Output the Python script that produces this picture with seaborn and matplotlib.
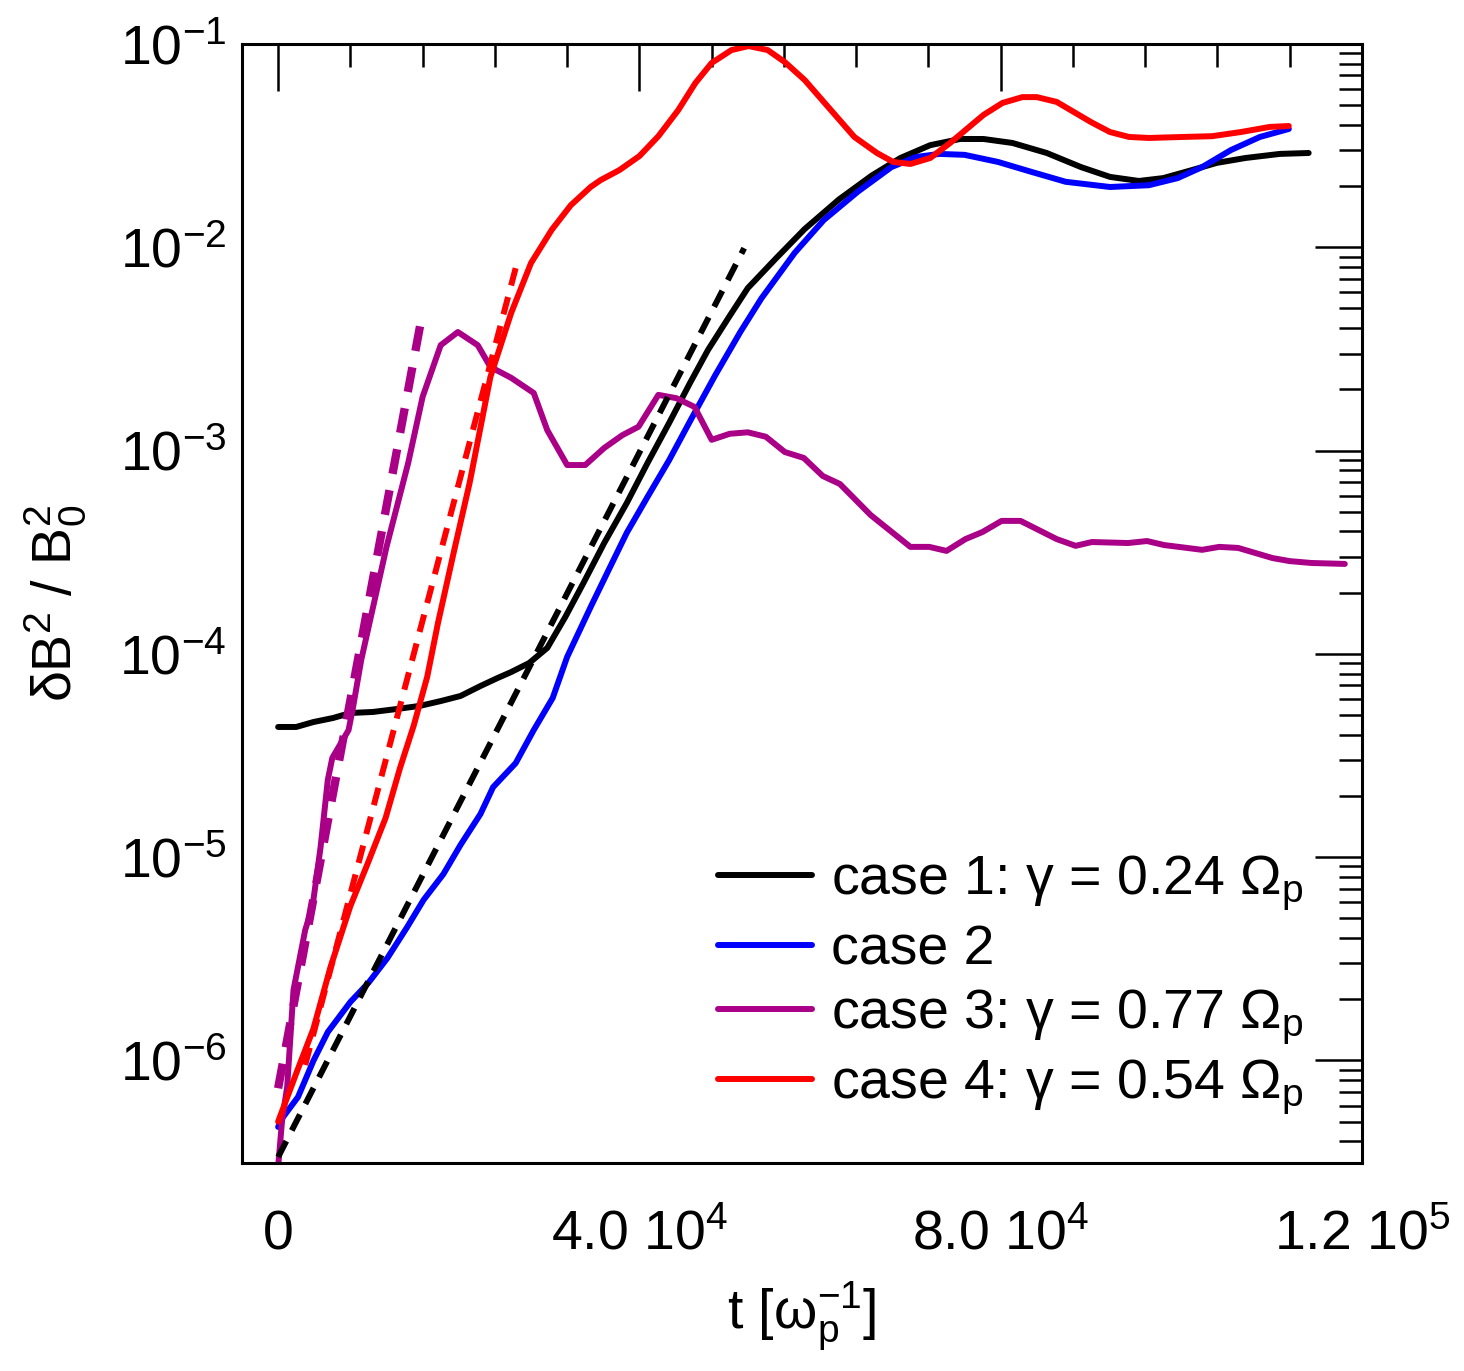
import numpy as np
import pandas as pd
import seaborn as sns
import matplotlib
matplotlib.use("Agg")
import matplotlib.pyplot as plt
from matplotlib.ticker import FixedLocator, MultipleLocator, LogLocator, NullFormatter

# case 1 (black)
t1 = [0, 2000, 3900, 6100, 8000, 10500, 13200, 15700, 18000, 20200, 22400, 24300,
      25800, 27800, 29800, 31800, 33800, 36100, 38600, 40900, 43300, 45600, 47600,
      50000, 52000, 55100, 58300, 62100, 65700, 68900, 72200, 75500, 78100, 81300,
      85100, 88900, 92100, 95300, 98000, 101200, 103900, 107100, 110900, 114100]
b1 = [4.37e-5, 4.37e-5, 4.62e-5, 4.84e-5, 5.12e-5, 5.18e-5, 5.36e-5, 5.55e-5, 5.86e-5,
      6.21e-5, 6.95e-5, 7.61e-5, 8.14e-5, 9.02e-5, 1.07e-4, 1.52e-4, 2.23e-4, 3.51e-4,
      5.52e-4, 8.69e-4, 1.37e-3, 2.15e-3, 3.13e-3, 4.6e-3, 6.3e-3, 8.8e-3, 1.23e-2,
      1.72e-2, 2.25e-2, 2.75e-2, 3.18e-2, 3.41e-2, 3.41e-2, 3.26e-2, 2.91e-2, 2.48e-2,
      2.22e-2, 2.12e-2, 2.19e-2, 2.40e-2, 2.60e-2, 2.75e-2, 2.88e-2, 2.91e-2]

# case 2 (blue)
t2 = [0, 550, 2200, 3900, 5500, 8000, 10000, 12100, 14300, 16100, 18300, 20200, 22400,
      23800, 26300, 28300, 30400, 32000, 34600, 36600, 38600, 40900, 43300, 45700,
      48400, 51200, 53500, 57200, 60400, 64200, 67900, 70600, 73200, 76000, 79700,
      83400, 87200, 92100, 96400, 99600, 102300, 105500, 108700, 111900]
b2 = [4.71e-7, 5.27e-7, 6.61e-7, 9.95e-7, 1.38e-6, 1.94e-6, 2.41e-6, 3.19e-6, 4.54e-6,
      6.16e-6, 8.26e-6, 1.15e-5, 1.63e-5, 2.21e-5, 2.90e-5, 4.22e-5, 6.07e-5, 9.66e-5,
      1.70e-4, 2.59e-4, 3.94e-4, 5.92e-4, 8.99e-4, 1.42e-3, 2.35e-3, 3.85e-3, 5.6e-3,
      9.4e-3, 1.36e-2, 1.88e-2, 2.48e-2, 2.78e-2, 2.88e-2, 2.85e-2, 2.63e-2, 2.35e-2,
      2.10e-2, 1.98e-2, 2.02e-2, 2.19e-2, 2.48e-2, 3.01e-2, 3.49e-2, 3.82e-2]

# case 3 (purple)
t3 = [0, 440, 1000, 1700, 3000, 3800, 4700, 5500, 6000, 7800, 8300, 9200, 12000, 14400,
      16000, 18000, 19900, 22100, 23500, 25800, 28300, 29800, 32000, 34000, 36100,
      38100, 39900, 42100, 44100, 46100, 48000, 50000, 52000, 54000, 56100, 58200,
      60300, 62200, 65600, 70000, 72100, 74000, 76100, 78000, 80100, 82200, 86200,
      88300, 90100, 94100, 96200, 98100, 102300, 104200, 106300, 110100, 112000,
      114400, 118100]
b3 = [3.0e-7, 5.09e-7, 7.41e-7, 2.22e-6, 4.39e-6, 5.69e-6, 1.12e-5, 2.40e-5, 3.08e-5,
      4.22e-5, 5.48e-5, 9.33e-5, 3.36e-4, 8.69e-4, 1.84e-3, 3.30e-3, 3.83e-3, 3.30e-3,
      2.58e-3, 2.28e-3, 1.92e-3, 1.26e-3, 8.49e-4, 8.49e-4, 1.03e-3, 1.19e-3, 1.31e-3,
      1.88e-3, 1.81e-3, 1.64e-3, 1.13e-3, 1.21e-3, 1.23e-3, 1.17e-3, 9.84e-4, 9.20e-4,
      7.50e-4, 6.85e-4, 4.82e-4, 3.36e-4, 3.36e-4, 3.21e-4, 3.67e-4, 3.98e-4, 4.51e-4,
      4.51e-4, 3.67e-4, 3.40e-4, 3.55e-4, 3.51e-4, 3.59e-4, 3.43e-4, 3.25e-4, 3.36e-4,
      3.32e-4, 2.96e-4, 2.86e-4, 2.80e-4, 2.77e-4]

# case 4 (red)
t4 = [0, 2100, 3900, 5800, 8000, 9900, 11900, 13500, 15000, 16500, 17700, 19500, 21200,
      23500, 25800, 28000, 30300, 32400, 34600, 35700, 37800, 40000, 42100, 44300,
      46200, 48000, 50200, 52100, 54200, 56100, 58300, 60900, 63800, 66300, 68100,
      70000, 72200, 74400, 78100, 80200, 82400, 84000, 86200, 90000, 92100, 94200,
      96400, 100200, 103400, 106600, 109800, 111900]
b4 = [5.0e-7, 8.87e-7, 1.43e-6, 2.88e-6, 5.75e-6, 9.27e-6, 1.56e-5, 2.75e-5, 4.42e-5,
      7.69e-5, 1.42e-4, 3.24e-4, 6.93e-4, 2.30e-3, 4.75e-3, 8.37e-3, 1.22e-2, 1.61e-2,
      1.98e-2, 2.14e-2, 2.40e-2, 2.81e-2, 3.52e-2, 4.73e-2, 6.43e-2, 8.07e-2, 9.34e-2,
      9.77e-2, 9.34e-2, 8.15e-2, 6.65e-2, 4.90e-2, 3.49e-2, 2.91e-2, 2.63e-2, 2.57e-2,
      2.75e-2, 3.26e-2, 4.48e-2, 5.13e-2, 5.48e-2, 5.48e-2, 5.19e-2, 4.13e-2, 3.69e-2,
      3.49e-2, 3.45e-2, 3.49e-2, 3.52e-2, 3.69e-2, 3.91e-2, 3.95e-2]

# exponential growth fits (straight in log-lin)
fit1_t, fit1_b = [0, 51600], [3.35e-7, 9.9e-3]
fit3_t, fit3_b = [0, 16000], [7.3e-7, 4.8e-3]
fit4_t, fit4_b = [3000, 26300], [9.5e-7, 7.9e-3]

labels = ["case 1: γ = 0.24 Ω$_\\mathregular{p}$", "case 2",
          "case 3: γ = 0.77 Ω$_\\mathregular{p}$", "case 4: γ = 0.54 Ω$_\\mathregular{p}$"]
colors = ["black", "#0000ff", "#aa0088", "#ff0000"]

sns.set_style("white")
plt.rcParams["font.family"] = ["Liberation Sans", "DejaVu Sans"]
plt.rcParams["mathtext.fontset"] = "custom"
plt.rcParams["mathtext.rm"] = "Liberation Sans"
plt.rcParams["mathtext.it"] = "Liberation Sans"
plt.rcParams["mathtext.default"] = "regular"
for k in ["text.color", "axes.labelcolor", "xtick.color", "ytick.color", "axes.edgecolor"]:
    plt.rcParams[k] = "black"
fs = 40

fig = plt.figure(figsize=(14.64, 13.71), dpi=100)
ax = fig.add_axes([0.1653, 0.1517, 0.765, 0.8162])

lw = 4.3
for t, b, lab, c in zip([t1, t2, t3, t4], [b1, b2, b3, b4], labels, colors):
    d = pd.DataFrame({"t": t, "b": b})
    sns.lineplot(data=d, x="t", y="b", color=c, lw=lw, label=lab, ax=ax,
                 sort=False, estimator=None)

for t, b, c, w in [(fit1_t, fit1_b, "black", lw), (fit3_t, fit3_b, "#aa0088", 6.0),
                   (fit4_t, fit4_b, "#ff0000", lw)]:
    d = pd.DataFrame({"t": t, "b": b})
    sns.lineplot(data=d, x="t", y="b", color=c, lw=w, ax=ax, legend=False,
                 sort=False, estimator=None, dashes=False, linestyle=(0, (3, 2)))

ax.set_yscale("log")
ax.set_xlim(-4000, 120000)
ax.set_ylim(3.13e-7, 1e-1)

ax.xaxis.set_major_locator(FixedLocator([0, 40000, 80000, 120000]))
ax.xaxis.set_minor_locator(MultipleLocator(8000))
ax.set_xticklabels(["0", "4.0 10$^{4}$", "8.0 10$^{4}$", "1.2 10$^{5}$"], fontsize=fs)
for lab in ax.get_xticklabels():
    lab.set_verticalalignment("baseline")

ax.yaxis.set_major_locator(FixedLocator([1e-6, 1e-5, 1e-4, 1e-3, 1e-2, 1e-1]))
ax.yaxis.set_minor_locator(LogLocator(base=10, subs=np.arange(2, 10)))
ax.yaxis.set_minor_formatter(NullFormatter())
ax.set_yticklabels(["10$^{-6}$", "10$^{-5}$", "10$^{-4}$", "10$^{-3}$", "10$^{-2}$", "10$^{-1}$"],
                   fontsize=fs)

ax.tick_params(which="both", direction="in", top=True, right=True, width=1.8, color="black")
ax.tick_params(which="major", length=34)
ax.tick_params(which="minor", length=16.5)
ax.tick_params(axis="x", which="major", pad=62)
ax.tick_params(axis="y", which="major", pad=11)
for s in ax.spines.values():
    s.set_linewidth(2.2)

ax.set_xlabel("t [ω$_\\mathregular{p}^{-1}$]", fontsize=fs)
ax.set_ylabel("δB$^2$ / B$_0^2$", fontsize=fs)
ax.xaxis.set_label_coords(0.5, -0.104)
ax.yaxis.set_label_coords(-0.1375, 0.5)

ax.legend(loc="upper left", bbox_to_anchor=(0.425, 0.276), frameon=False, fontsize=fs,
          handlelength=1.7, handletextpad=0.33, labelspacing=0.2, borderpad=0,
          borderaxespad=0)

fig.savefig("out.png", dpi=100)
